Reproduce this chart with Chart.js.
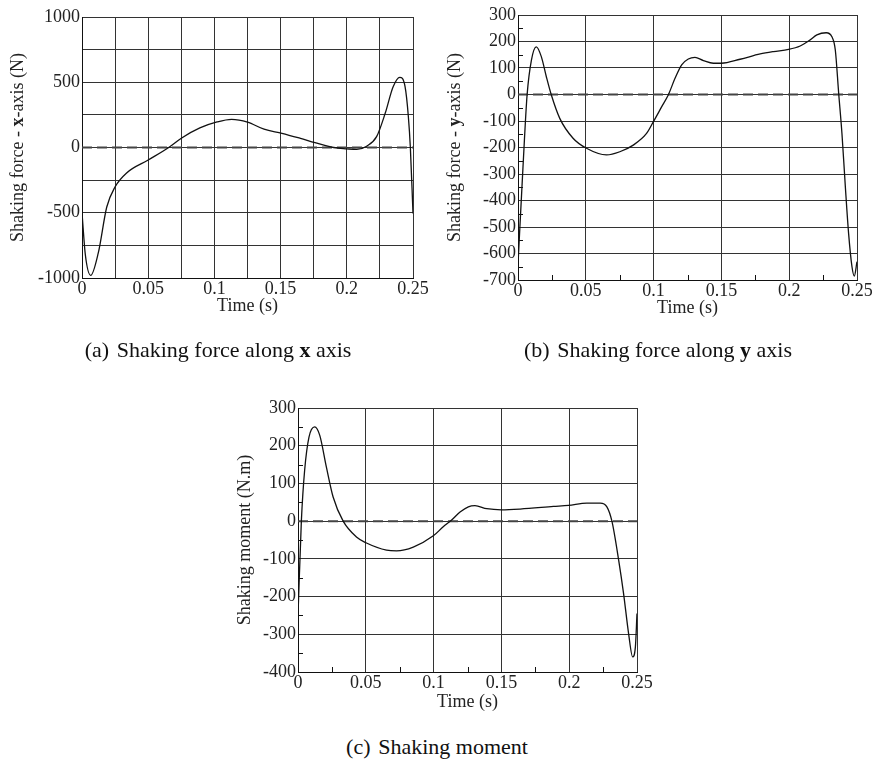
<!DOCTYPE html>
<html lang="en">
<head>
<meta charset="UTF-8">
<script src="https://cdn.jsdelivr.net/npm/chart.js"></script>
<style>
    body { margin: 0; background: #fff; width: 873px; height: 764px; position: relative; overflow: hidden; font-family: "Liberation Serif", serif; }
    .box { position: absolute; }
    .box canvas { display: block; }
    .cap { position: absolute; font-size: 22px; line-height: 26px; color: #111; white-space: nowrap; transform: translateX(-50%); }
    .cap span { margin-right: 0.35em; }
</style>
</head>
<body>
    <div class="box" style="left:0;top:0"><canvas id="chartX" width="430" height="320"></canvas></div>
    <div class="box" style="left:440px;top:0"><canvas id="chartY" width="433" height="320"></canvas></div>
    <div class="box" style="left:220px;top:360px"><canvas id="chartM" width="440" height="360"></canvas></div>

    <div class="cap" style="left:218px;top:337px"><span>(a)</span>Shaking force along <b>x</b> axis</div>
    <div class="cap" style="left:658px;top:337px"><span>(b)</span>Shaking force along <b>y</b> axis</div>
    <div class="cap" style="left:437px;top:734px"><span>(c)</span>Shaking moment</div>

<script>
    // time (s) and values
    var tX = [0, 0.0025, 0.0066, 0.0123, 0.0187, 0.0249, 0.0337, 0.05, 0.0655, 0.0753, 0.089, 0.102, 0.113, 0.125, 0.1375, 0.151, 0.165, 0.176, 0.19, 0.2, 0.2075, 0.215, 0.2225, 0.229, 0.235, 0.24, 0.244, 0.2465, 0.248, 0.25]
    var forceX = [-500, -820, -980, -808, -456, -303, -195, -96, 0, 73, 150, 196, 216, 195, 140, 109, 70, 37, 0, -10, -15, 10, 83, 262, 466, 538, 466, 236, 0, -505]

    var tY = [0, 0.0037, 0.0067, 0.0099, 0.0135, 0.0172, 0.0209, 0.0246, 0.0308, 0.0406, 0.0505, 0.0653, 0.0751, 0.085, 0.0948, 0.0998, 0.106, 0.1108, 0.1158, 0.1207, 0.1256, 0.1305, 0.1367, 0.1441, 0.15, 0.1638, 0.1786, 0.1884, 0.1995, 0.2081, 0.2155, 0.2204, 0.2273, 0.2315, 0.234, 0.2365, 0.2389, 0.2414, 0.2438, 0.2463, 0.248, 0.25]
    var forceY = [-640, -272, -2, 130, 180, 143, 67, -2, -90, -165, -203, -228, -216, -191, -147, -103, -46, -2, 61, 112, 134, 140, 128, 118, 118, 133, 153, 162, 170, 183, 206, 225, 233, 218, 168, 4, -147, -348, -524, -650, -685, -631]

    var tM = [0, 0.0025, 0.0049, 0.0081, 0.0123, 0.016, 0.0209, 0.0259, 0.0333, 0.0431, 0.0505, 0.0653, 0.0727, 0.085, 0.0998, 0.1071, 0.1133, 0.1195, 0.1256, 0.1305, 0.1392, 0.15, 0.1638, 0.1884, 0.1995, 0.213, 0.2229, 0.2278, 0.2315, 0.2365, 0.2401, 0.2438, 0.2468, 0.2488, 0.25]
    var moment = [-250, 2, 135, 223, 250, 228, 144, 64, 0, -42, -58, -77, -79, -69, -39, -15, 3, 24, 38, 41, 33, 30, 32, 39, 42, 48, 48, 38, 0, -104, -192, -298, -360, -334, -245]

    var xTicks = [0, 0.05, 0.1, 0.15, 0.2, 0.25]
    var zeroLine = [0, 0]

    var serif = '"Liberation Serif", serif'

    // small inward ticks between labelled ones (plots b and c)
    var minorTicks = {
        id: 'minorTicks',
        afterDraw(chart, args, o) {
            if (!o.on) return;
            var ctx = chart.ctx, a = chart.chartArea, x = chart.scales.x, y = chart.scales.y;
            ctx.save();
            ctx.strokeStyle = '#111';
            ctx.lineWidth = 1;
            ctx.beginPath();
            x.ticks.forEach(t => {
                if (Math.round(t.value * 1000) % 50) {
                    var px = Math.round(x.getPixelForValue(t.value)) + 0.5;
                    ctx.moveTo(px, a.bottom); ctx.lineTo(px, a.bottom - 5);
                }
            });
            y.ticks.forEach(t => {
                if (Math.round(t.value) % 100) {
                    var py = Math.round(y.getPixelForValue(t.value)) + 0.5;
                    ctx.moveTo(a.left, py); ctx.lineTo(a.left + 5, py);
                }
            });
            ctx.stroke();
            ctx.restore();
        }
    };

    // y title with a bold part
    var richTitle = {
        id: 'richTitle',
        afterDraw(chart, args, o) {
            var ctx = chart.ctx, a = chart.chartArea;
            var fonts = ['18px ' + serif, 'bold 18px ' + serif];
            ctx.save();
            ctx.translate(o.x, (a.top + a.bottom) / 2);
            ctx.rotate(-Math.PI / 2);
            ctx.fillStyle = '#222';
            ctx.textBaseline = 'middle';
            var w = 0;
            o.parts.forEach(p => { ctx.font = fonts[p[1]]; w += ctx.measureText(p[0]).width; });
            var cx = -w / 2;
            o.parts.forEach(p => {
                ctx.font = fonts[p[1]];
                ctx.fillText(p[0], cx, 0);
                cx += ctx.measureText(p[0]).width;
            });
            ctx.restore();
        }
    };

    function makeChart(id, t, vals, c) {
        return new Chart(document.getElementById(id).getContext('2d'), {
            type: 'line',
            data: {
                datasets: [{
                    data: t.map((v, i) => ({ x: v, y: vals[i] })),
                    borderColor: '#111',
                    borderWidth: 1.3,
                    pointRadius: 0,
                    cubicInterpolationMode: 'monotone',
                    fill: false
                },
                {
                    data: [{ x: xTicks[0], y: zeroLine[0] }, { x: xTicks[xTicks.length - 1], y: zeroLine[1] }],
                    borderColor: '#444',
                    borderWidth: 2,
                    borderDash: [10, 5],
                    pointRadius: 0,
                    fill: false
                }]
            },
            options: {
                responsive: false,
                animation: false,
                layout: { padding: c.pad },
                plugins: {
                    legend: { display: false },
                    tooltip: { enabled: false },
                    minorTicks: { on: c.minor },
                    richTitle: { x: c.titleX, parts: c.title }
                },
                scales: {
                    x: {
                        type: 'linear',
                        min: 0,
                        max: 0.25,
                        afterFit: s => { s.height = c.xH; },
                        ticks: {
                            stepSize: 0.025,
                            autoSkip: false,
                            maxRotation: 0,
                            padding: 0,
                            color: '#222',
                            font: { family: serif, size: 18 },
                            callback: v => (Math.round(v * 1000) % 50 === 0) ? String(+v.toFixed(2)) : ''
                        },
                        grid: {
                            drawTicks: false,
                            color: ctx => (c.minor && Math.round(ctx.tick.value * 1000) % 50) ? 'rgba(0,0,0,0)' : '#333'
                        },
                        border: { color: '#111' },
                        title: {
                            display: true,
                            text: 'Time (s)',
                            color: '#222',
                            font: { family: serif, size: 18 },
                            padding: { top: 0, bottom: c.titlePad }
                        }
                    },
                    y: {
                        min: c.yMin,
                        max: c.yMax,
                        afterFit: s => { s.width = c.yW; },
                        ticks: {
                            stepSize: c.yStep,
                            autoSkip: false,
                            padding: 2,
                            color: '#222',
                            font: { family: serif, size: 18 },
                            callback: v => (Math.round(v) % c.yLabel === 0) ? String(v) : ''
                        },
                        grid: {
                            drawTicks: false,
                            color: ctx => (Math.round(ctx.tick.value) % c.yGrid) ? 'rgba(0,0,0,0)' : '#333'
                        },
                        border: { color: '#111' }
                    }
                }
            },
            plugins: [minorTicks, richTitle]
        });
    }

    makeChart('chartX', tX, forceX, {
        pad: { top: 17, right: 17, left: 0, bottom: 0 }, xH: 42, yW: 82, titlePad: 3,
        yMin: -1000, yMax: 1000, yStep: 250, yLabel: 500, yGrid: 250, minor: false,
        titleX: 18, title: [['Shaking force - ', 0], ['x', 1], ['-axis (N)', 0]]
    });

    makeChart('chartY', tY, forceY, {
        pad: { top: 15, right: 16, left: 0, bottom: 0 }, xH: 40, yW: 78, titlePad: 1,
        yMin: -700, yMax: 300, yStep: 50, yLabel: 100, yGrid: 100, minor: true,
        titleX: 15, title: [['Shaking force - ', 0], ['y', 1], ['-axis (N)', 0]]
    });

    makeChart('chartM', tM, moment, {
        pad: { top: 48, right: 23, left: 0, bottom: 0 }, xH: 48, yW: 78, titlePad: 7,
        yMin: -400, yMax: 300, yStep: 50, yLabel: 100, yGrid: 100, minor: true,
        titleX: 25, title: [['Shaking moment (N.m)', 0]]
    });
</script>
</body>
</html>
